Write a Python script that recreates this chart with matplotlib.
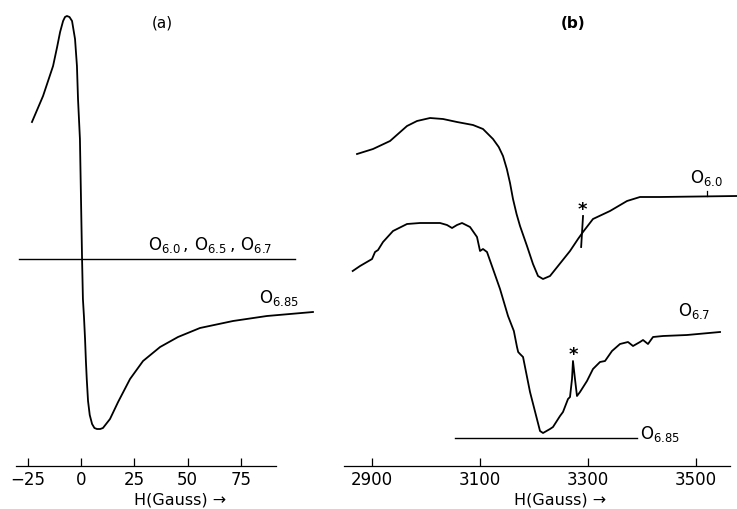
import numpy as np
import matplotlib.pyplot as plt

# panel (a): derivative EPR signal of O6.85, field in gauss (relative)
h_a = [-23.0, -17.8, -13.1, -11.2, -9.8, -8.4, -7.5, -6.6, -5.4, -4.2, -2.8, -1.9,
       -1.4, -0.5, 0.0, 0.5, 0.9, 1.4, 1.9, 2.3, 2.7, 3.3, 4.1, 5.2, 6.3, 7.5,
       9.0, 10.3, 13.6, 17.4, 23.0, 29.1, 37.1, 45.5, 55.8, 71.3, 87.2, 108.8]
sig_a = [1.37, 1.63, 1.93, 2.12, 2.27, 2.38, 2.42, 2.43, 2.42, 2.38, 2.20, 1.93,
         1.60, 1.20, 0.60, 0.0, -0.40, -0.58, -0.80, -1.02, -1.20, -1.42, -1.56,
         -1.65, -1.69, -1.70, -1.70, -1.69, -1.60, -1.43, -1.20, -1.02, -0.88,
         -0.78, -0.69, -0.62, -0.57, -0.53]
flat_a = [-29.1, 100.4]   # O6.0, O6.5, O6.7 : no signal

# panel (b): O6.0 trace
h_b60 = [2872.8, 2902.4, 2933.9, 2965.3, 2983.8, 3007.9, 3031.9, 3057.8, 3087.4,
         3105.9, 3124.4, 3135.0, 3142.9, 3150.0, 3155.9, 3161.4, 3168.0, 3174.4,
         3187.3, 3198.4, 3207.7, 3216.9, 3229.9, 3244.7, 3266.9, 3281.7, 3290.9,
         3309.4, 3340.9, 3372.4, 3396.4, 3433.4, 3575.9]
sig_b60 = [1.05, 1.10, 1.18, 1.33, 1.38, 1.41, 1.40, 1.37, 1.34, 1.30, 1.20, 1.12,
           1.03, 0.90, 0.76, 0.60, 0.45, 0.33, 0.13, -0.05, -0.17, -0.20, -0.17,
           -0.07, 0.08, 0.20, 0.27, 0.40, 0.48, 0.58, 0.62, 0.62, 0.63]

# panel (b): O6.7 trace
h_b67 = [2864.8, 2878.4, 2900.6, 2906.1, 2911.7, 2920.9, 2939.4, 2965.3, 2989.4,
         3026.4, 3039.3, 3048.6, 3057.8, 3067.1, 3081.9, 3094.8, 3100.4, 3105.9,
         3113.3, 3124.4, 3137.4, 3152.2, 3163.0, 3168.8, 3171.0, 3174.4, 3180.0,
         3192.9, 3211.4, 3217.0, 3229.9, 3235.4, 3248.4, 3253.9, 3263.2, 3266.9,
         3270.6, 3272.4, 3276.1, 3279.8, 3285.4, 3298.3, 3309.4, 3322.4, 3331.7,
         3344.6, 3359.4, 3374.2, 3383.5, 3396.4, 3402.0, 3411.2, 3420.5, 3439.0,
         3483.4, 3544.5]
sig_b67 = [-0.12, -0.07, 0.0, 0.07, 0.09, 0.17, 0.28, 0.35, 0.36, 0.36, 0.34, 0.31,
           0.34, 0.36, 0.32, 0.22, 0.08, 0.10, 0.07, -0.10, -0.30, -0.57, -0.72,
           -0.88, -0.93, -0.95, -0.98, -1.33, -1.72, -1.74, -1.70, -1.68, -1.57,
           -1.53, -1.40, -1.38, -1.20, -1.02, -1.20, -1.37, -1.33, -1.22, -1.10,
           -1.03, -1.02, -0.92, -0.85, -0.83, -0.87, -0.83, -0.81, -0.85, -0.78,
           -0.77, -0.76, -0.73]
flat_b685 = [3054.1, 3390.8]
flat_b685_level = -1.79

ticks_a = [-25, 0, 25, 50, 75]
ticks_b = [2900, 3100, 3300, 3500]

W, H = 737, 510
fig = plt.figure(figsize=(W / 100, H / 100), dpi=100)
ax_a = fig.add_axes([10 / W, 43 / H, 310 / W, 467 / H])
ax_b = fig.add_axes([340 / W, 43 / H, 397 / W, 467 / H])

lw = 1.3
for ax in (ax_a, ax_b):
    for s in ('left', 'right', 'top'):
        ax.spines[s].set_visible(False)
    ax.spines['bottom'].set_linewidth(0.9)
    ax.set_yticks([])
    ax.tick_params(axis='x', direction='in', length=6, width=0.9,
                   labelsize=12, pad=3)
    ax.set_ylim(-2.07, 2.60)
    ax.patch.set_alpha(0)

# (a)
ax_a.plot(h_a, sig_a, color='black', lw=lw, solid_joinstyle='round')
ax_a.plot(flat_a, [0, 0], color='black', lw=1.0)
ax_a.set_xlim(-33.3, 112.1)
ax_a.spines['bottom'].set_bounds(-30.5, 91.5)
ax_a.set_xticks(ticks_a)
ax_a.set_xticklabels(['\u221225', '0', '25', '50', '75'])
ax_a.text(38, 2.37, '(a)', ha='center', va='center', fontsize=11)
ax_a.text(31.4, 0.15, r'$\mathregular{O_{6.0}\,,\,O_{6.5}\,,\,O_{6.7}}$',
          ha='left', va='center', fontsize=12)
ax_a.text(83.5, -0.38, r'$\mathregular{O_{6.85}}$', ha='left', va='center',
          fontsize=12)
ax_a.text(0.55, -0.071, 'H(Gauss) \u2192', transform=ax_a.transAxes,
          ha='center', va='center', fontsize=11.5)

# (b)
ax_b.plot(h_b60, sig_b60, color='black', lw=lw, solid_joinstyle='round')
ax_b.plot(h_b67, sig_b67, color='black', lw=lw, solid_joinstyle='round')
ax_b.plot(flat_b685, [flat_b685_level] * 2, color='black', lw=1.0)
ax_b.plot([3291.0, 3287.5], [0.43, 0.12], color='black', lw=lw)
ax_b.plot([3520.4, 3520.4], [0.63, 0.68], color='black', lw=0.9)
ax_b.text(3289.0, 0.50, '*', ha='center', va='center', fontsize=13,
          fontweight='bold')
ax_b.text(3272.6, -0.95, '*', ha='center', va='center', fontsize=13,
          fontweight='bold')
ax_b.set_xlim(2841.3, 3575.9)
ax_b.spines['bottom'].set_bounds(2848.8, 3562.9)
ax_b.set_xticks(ticks_b)
ax_b.text(3272.6, 2.37, '(b)', ha='center', va='center', fontsize=11,
          fontweight='bold')
ax_b.text(3489.0, 0.82, r'$\mathregular{O_{6.0}}$', ha='left', va='center',
          fontsize=12)
ax_b.text(3466.7, -0.51, r'$\mathregular{O_{6.7}}$', ha='left', va='center',
          fontsize=12)
ax_b.text(3396.7, -1.74, r'$\mathregular{O_{6.85}}$', ha='left', va='center',
          fontsize=12)
ax_b.text(0.555, -0.071, 'H(Gauss) \u2192', transform=ax_b.transAxes,
          ha='center', va='center', fontsize=11.5)

fig.savefig('out.png', dpi=100)
